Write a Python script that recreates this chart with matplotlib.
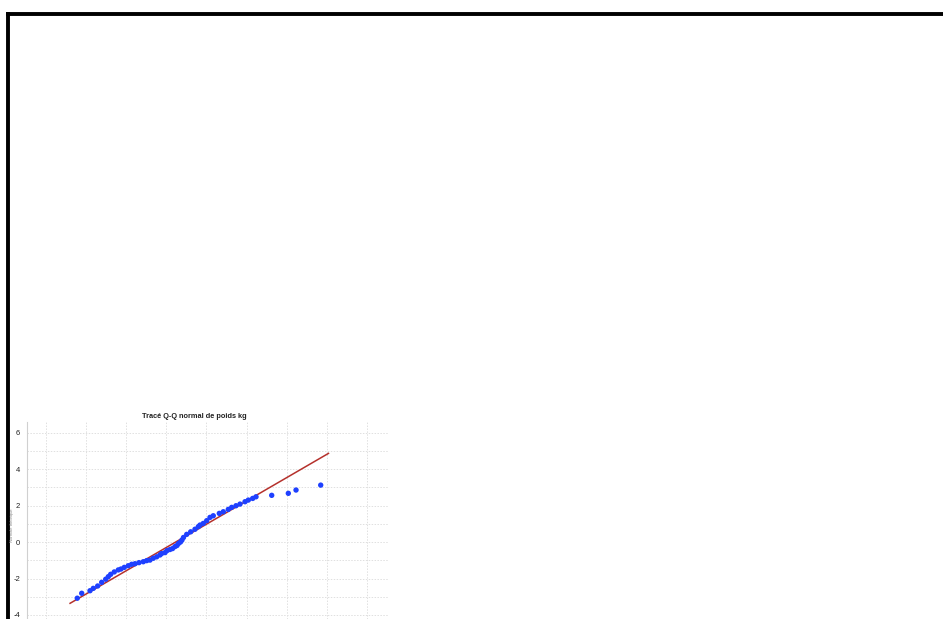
import numpy as np
import matplotlib
matplotlib.use("Agg")
import matplotlib.pyplot as plt
from matplotlib.lines import Line2D
from matplotlib.ticker import MultipleLocator, NullFormatter

plt.rcParams['font.family'] = ['Liberation Sans', 'DejaVu Sans']
plt.rcParams['axes.unicode_minus'] = False

# observed weights (kg) and expected normal values
poids = [37.80, 38.90, 40.97, 41.79, 42.88, 43.88, 44.88, 45.53, 46.12, 47.02,
         48.02, 48.69, 49.51, 50.51, 51.36, 52.18, 53.18, 54.25, 55.10, 55.92,
         56.74, 57.59, 58.41, 58.83, 59.66, 60.16, 60.90, 61.53, 62.15, 62.65,
         63.02, 63.52, 63.89, 64.27, 65.07, 66.06, 67.13, 67.96, 68.38, 69.20,
         70.05, 70.87, 71.69, 73.19, 74.19, 75.43, 76.28, 77.35, 78.35, 79.60,
         80.42, 81.51, 82.34, 86.25, 90.39, 92.31, 98.46]
attendu = [-3.08, -2.81, -2.67, -2.54, -2.41, -2.21, -2.04, -1.90, -1.77, -1.64,
           -1.53, -1.48, -1.39, -1.30, -1.22, -1.19, -1.13, -1.08, -1.02, -0.99,
           -0.89, -0.81, -0.71, -0.63, -0.58, -0.47, -0.41, -0.36, -0.25, -0.19,
           -0.08, 0.00, 0.11, 0.25, 0.42, 0.56, 0.70, 0.84, 0.93, 1.02,
           1.17, 1.35, 1.44, 1.57, 1.66, 1.79, 1.90, 1.99, 2.08, 2.21,
           2.30, 2.39, 2.48, 2.56, 2.67, 2.85, 3.12]

# reference line end points
ligne_x = [36.0, 100.4]
ligne_y = [-3.36, 4.86]

y_ticks = [-4, -2, 0, 2, 4, 6]

fig = plt.figure(figsize=(9.43, 6.19), dpi=100)
fig.patch.set_facecolor('white')

# outer frame (top and left edges)
fig.add_artist(Line2D([0.0083, 1.01], [0.9774, 0.9774], transform=fig.transFigure,
                      color='black', lw=2.8, solid_capstyle='projecting'))
fig.add_artist(Line2D([0.0083, 0.0083], [-0.01, 0.9774], transform=fig.transFigure,
                      color='black', lw=2.8, solid_capstyle='projecting'))

ax = fig.add_axes([27 / 943, 0.0, 361 / 943, 197 / 619])
ax.set_xlim(25.27, 115.23)
ax.set_ylim(-4.22, 6.58)

ax.xaxis.set_major_locator(MultipleLocator(10))
ax.xaxis.set_major_formatter(NullFormatter())
ax.set_yticks(y_ticks)
ax.yaxis.set_minor_locator(MultipleLocator(1))
ax.tick_params(axis='both', which='both', length=0, labelsize=5.5, pad=5,
               labelcolor='#222222')
ax.grid(True, which='both', color='#e0e0e0', linestyle=(0, (1.5, 1.5)), lw=0.7)
ax.set_axisbelow(True)

for side in ['top', 'right', 'bottom']:
    ax.spines[side].set_visible(False)
ax.spines['left'].set_color('#d0d0d0')
ax.spines['left'].set_linewidth(0.8)

ax.plot(ligne_x, ligne_y, color='#b5312c', lw=1.1, zorder=2)
ax.scatter(poids, attendu, s=15, color='#1e40ff', edgecolors='none', zorder=3)

ax.set_title('Tracé Q-Q normal de poids kg', fontsize=5.3, fontweight='bold',
             pad=3, color='#222222', x=(194 - 27) / 361)
fig.text(12 / 943, 1 - 525 / 619, 'Normale théorique', rotation=90, fontsize=3,
         color='#888888', ha='center', va='center')

fig.savefig('out.png', dpi=100)
